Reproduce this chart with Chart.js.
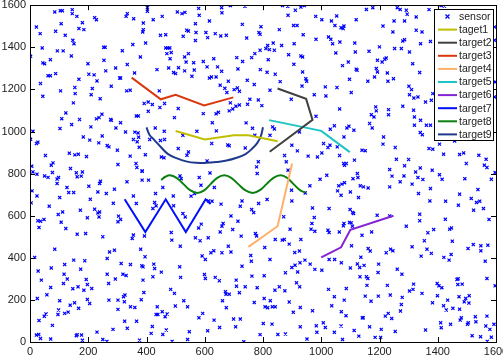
<!DOCTYPE html>
<html>
<head>
<meta charset="utf-8">
<script src="https://cdn.jsdelivr.net/npm/chart.js@4.4.0/dist/chart.umd.min.js"></script>
<style>
  html, body { margin: 0; padding: 0; background: #fff; overflow: hidden; }
  #wrap { width: 520px; height: 362px; position: relative; }
</style>
</head>
<body>
<div id="wrap"><canvas id="myChart"></canvas></div>
<script>
const ticksX = [0, 200, 400, 600, 800, 1000, 1200, 1400, 1600];
const ticksY = [0, 200, 400, 600, 800, 1000, 1200, 1400, 1600];

// sensor positions (x, y)
const sensor = [
  [85,1568],[104,1574],[111,1574],[145,1579],[145,1560],[161,1547],[222,1541],[228,1531],[180,1517],[334,1560],[330,1547],[356,1536],[403,1588],[403,1571],[423,1531],[454,1547],[506,1568],[522,1560],[532,1566],
  [22,1496],[35,1465],[107,1512],[88,1476],[121,1457],[168,1489],[185,1484],[389,1515],[389,1484],[387,1473],[448,1457],[466,1460],[526,1452],[538,1481],
  [147,1433],[151,1417],[353,1413],[397,1420],[42,1397],[94,1383],[114,1383],[142,1359],[253,1400],[258,1400],[317,1384],[466,1397],[473,1397],[480,1397],[485,1375],[470,1370],[481,1346],[379,1354],[531,1354],[536,1330],
  [2,1357],[70,1341],[44,1326],[50,1322],[199,1322],[254,1338],[294,1302],[334,1318],[260,1288],[202,1272],[220,1269],[359,1278],[436,1294],[476,1302],[493,1280],[500,1275],[510,1303],[531,1288],
  [62,1265],[70,1265],[88,1275],[168,1248],[308,1254],[311,1254],[230,1240],[36,1228],[279,1215],[105,1193],[154,1209],[214,1204],[155,1180],[210,1175],[44,1167],[241,1156],[332,1193],[344,1196],[444,1193],
  [149,1136],[392,1133],[406,1140],[420,1128],[462,1133],[446,1114],[509,1109],[406,1096],[247,1082],[228,1060],[237,1066],[279,1053],[277,1057],[365,1074],[372,1074],[123,1088],[109,1061],[170,1057],[143,1033],[103,1014],[209,1022],[311,1042],[295,1017],[328,998],[360,997],[371,993],[430,1017],[461,1001],[496,1066],
  [10,1001],[2,963],[27,949],[22,943],[183,974],[205,959],[248,979],[236,946],[265,933],[271,927],[300,911],[355,962],[373,973],[368,951],[411,962],[448,957],[462,962],[509,919],[525,982],[375,925],[396,890],
  [53,886],[135,897],[154,889],[166,892],[194,881],[79,851],[73,840],[6,835],[139,824],[302,843],[344,883],[364,848],[367,829],[385,813],[451,879],[460,875],[539,887],
  [579,1585],[658,1588],[659,1564],[688,1598],[738,1595],[867,1598],[885,1595],[911,1576],[930,1591],[942,1598],[581,1552],[616,1525],[568,1512],[544,1477],[570,1470],[604,1470],[636,1465],[655,1454],[674,1457],[568,1432],[610,1446],
  [729,1509],[793,1498],[786,1470],[790,1462],[744,1444],[856,1484],[886,1552],[905,1504],[917,1504],[938,1460],[981,1547],[1002,1531],[1035,1525],[1047,1504],[1053,1549],[1068,1493],[1025,1449],[1033,1438],[1039,1417],[1064,1425],
  [982,1438],[907,1417],[864,1409],[835,1420],[816,1409],[810,1394],[822,1389],[839,1386],[790,1386],[772,1370],[761,1351],[730,1333],[710,1351],[818,1341],[888,1365],[930,1359],[936,1354],[906,1319],[1050,1373],[1073,1313],
  [595,1333],[631,1346],[562,1327],[544,1370],[564,1292],[608,1307],[644,1307],[658,1286],[714,1297],[791,1294],[814,1281],[842,1272],[859,1237],[936,1283],[947,1251],[950,1239],[934,1216],[1014,1212],[1054,1209],[976,1175],[1016,1169],
  [556,1262],[616,1254],[623,1259],[639,1259],[681,1239],[746,1243],[770,1223],[653,1220],[669,1205],[676,1185],[701,1199],[712,1207],[719,1191],[755,1153],[784,1150],[747,1129],[796,1123],[719,1126],[707,1120],[696,1107],[684,1098],[688,1136],
  [824,1196],[897,1153],[1063,1107],[595,1085],[639,1084],[647,1091],[626,1042],[640,1003],[624,943],[679,936],[684,932],[742,1041],[764,1015],[772,982],[739,922],[784,856],[778,832],[573,1001],[544,903],[608,860],
  [824,982],[833,1022],[839,1012],[899,935],[925,998],[918,908],[955,883],[987,879],[1002,898],[1030,935],[1045,1027],[1031,1011],[1008,943],[1023,924],[1055,927],[1063,886],[1077,848],[874,886],[880,856],[886,816],[982,1072],
  [1155,1580],[1177,1588],[1261,1588],[1271,1580],[1292,1576],[1295,1557],[1326,1544],[1370,1579],[1412,1598],[1423,1596],[1120,1531],[1250,1525],[1286,1525],[1078,1501],[1075,1489],[1212,1501],[1246,1473],[1326,1481],[1346,1473],
  [1115,1420],[1117,1378],[1164,1381],[1200,1402],[1280,1430],[1286,1436],[1275,1394],[1303,1378],[1252,1394],[1341,1417],[1375,1428],[1093,1330],[1193,1338],[1209,1330],[1218,1343],[1223,1349],[1314,1322],
  [1120,1296],[1123,1291],[1189,1299],[1193,1283],[1227,1278],[1248,1251],[1338,1280],[1097,1248],[1160,1239],[1183,1259],[1103,1185],[1229,1239],[1301,1215],[1310,1199],[1303,1175],[1318,1159],[1332,1164],[1358,1140],[1378,1148],[1383,1180],
  [1280,1120],[1187,1117],[1189,1098],[1172,1080],[1181,1069],[1231,1104],[1231,1080],[1317,1101],[1320,1069],[1341,1053],[1320,1030],[1361,1030],[1375,1030],[1095,1025],[1088,1017],[1112,1006],[1166,1038],[1175,1017],[1340,995],[1347,985],
  [1214,974],[1212,940],[1078,974],[1254,924],[1140,911],[1151,909],[1370,919],[1383,916],[1406,940],[1458,955],[1420,892],[1475,891],[1489,898],[1541,887],[1566,868],[1498,848],[1560,840],[1569,829],[1258,868],[1300,867],[1286,837],[1340,827],[1381,816],[1235,819],[1080,840],[1086,848],[1114,864],
  [1595,1496],[1595,1433],[1597,1235],[1595,1164],
  [10,808],[24,797],[50,789],[62,782],[77,805],[93,774],[93,753],[98,782],[159,804],[162,785],[176,788],[180,808],[127,734],[133,710],[150,710],[202,740],[242,764],[239,753],[233,713],[262,705],[290,726],[333,761],[385,811],[385,769],[407,769],[355,694],[431,705],[456,734],[492,694],[515,789],[519,776],
  [7,718],[24,694],[4,661],[66,645],[102,686],[207,678],[286,659],[173,626],[112,618],[97,606],[222,631],[233,613],[239,618],[237,594],[197,590],[304,598],[311,582],[302,571],[365,658],[428,663],[433,647],[422,634],[493,647],[525,610],[533,594],
  [27,576],[36,574],[48,582],[31,544],[107,569],[123,539],[162,512],[191,515],[250,500],[355,508],[351,492],[393,504],[485,520],[487,484],[516,455],[85,441],[273,428],[290,436],[380,441],[395,405],[16,402],[265,397],[313,373],[345,368],[384,362],[388,357],[425,370],[428,349],
  [73,352],[150,389],[188,386],[119,368],[174,346],[28,337],[39,294],[117,322],[128,299],[115,278],[193,297],[197,273],[71,259],[147,253],[165,262],[185,246],[212,254],[265,322],[293,299],[270,278],[319,322],[330,316],[388,294],[422,310],[451,332],[514,357],[517,307],[391,235],
  [25,207],[58,224],[102,196],[138,175],[167,160],[153,186],[197,202],[205,183],[271,199],[302,199],[321,215],[326,223],[324,191],[302,155],[345,167],[360,164],[382,201],[437,167],[499,171],[528,196],[483,250],[496,231],
  [31,102],[55,133],[49,122],[98,152],[96,131],[119,136],[131,142],[77,79],[162,35],[177,33],[159,30],[71,14],[36,17],[22,33],[30,36],[230,47],[285,60],[250,12],[264,3],[325,99],[334,65],[366,99],[420,74],[416,41],[433,131],[439,131],[454,144],[464,120],[471,133],[468,57],[456,36],[488,3],[376,9],[180,8],
  [581,781],[618,803],[587,745],[633,734],[553,693],[565,705],[780,800],[961,742],[996,773],[1019,792],[1060,742],[1071,750],[1056,718],[1068,697],[898,721],[899,670],[945,708],[656,655],[728,670],[722,645],[761,629],[768,615],[785,658],[814,677],[613,670],[625,669],
  [690,599],[714,574],[663,563],[659,550],[653,523],[696,534],[579,542],[588,560],[568,495],[584,481],[612,495],[725,503],[774,515],[778,504],[871,595],[893,536],[970,637],[976,591],[968,563],[965,536],[978,526],[1027,634],[1023,531],[1027,520],[1062,523],[1076,552],
  [842,487],[866,484],[873,487],[890,465],[930,487],[806,449],[681,455],[690,428],[659,424],[631,433],[621,424],[591,409],[602,392],[758,411],[760,384],[824,392],[909,425],[925,432],[944,389],[927,376],[910,365],[899,354],[962,370],[978,345],[1002,341],[1027,392],[1046,392],[1069,376],
  [728,360],[877,329],[919,333],[599,321],[602,302],[636,307],[650,291],[708,294],[709,265],[671,239],[673,227],[684,227],[719,234],[739,262],[762,313],[804,315],[780,258],[841,246],[856,262],[875,243],[915,281],[926,262],[1025,250],[1045,215],
  [661,196],[674,163],[770,188],[804,207],[825,196],[807,167],[816,163],[832,167],[842,167],[890,190],[904,141],[928,164],[970,148],[1036,172],[1069,144],[1079,199],[541,167],[593,136],[580,115],[632,104],[699,109],[722,109],
  [651,69],[706,72],[801,88],[831,85],[928,72],[983,77],[1007,91],[1014,69],[985,46],[1045,46],[1068,76],[610,53],[547,49],[790,35],[851,36],[877,38],[734,1],[951,14],[1073,12],[541,12],
  [1124,800],[1126,781],[1109,776],[1080,757],[1134,742],[1145,737],[1161,732],[1100,713],[1128,686],[1243,788],[1284,789],[1324,808],[1332,781],[1349,772],[1312,750],[1271,761],[1235,737],[1406,795],[1415,773],[1493,776],[1584,773],[1597,805],
  [1375,729],[1334,705],[1475,702],[1538,724],[1515,682],[1533,663],[1544,669],[1471,650],[1427,669],[1373,670],[1099,629],[1111,610],[1108,615],[1192,602],[1235,599],[1338,607],[1338,576],[1292,550],[1078,563],[1097,568],[1103,566],[1107,550],
  [1173,523],[1140,507],[1366,519],[1386,534],[1426,583],[1441,536],[1447,542],[1523,626],[1557,634],[1576,582],[1354,481],[1450,479],[1104,457],[1161,444],[1168,432],[1223,424],[1238,441],[1246,433],[1312,452],[1363,441],[1378,421],[1343,408],
  [1421,402],[1439,389],[1446,416],[1504,444],[1522,463],[1548,457],[1572,460],[1548,433],[1563,384],[1136,403],[1124,371],[1132,354],[1147,364],[1100,352],[1197,370],[1195,330],[1261,346],[1277,322],[1133,310],[1155,310],[1160,302],[1157,269],[1227,269],[1086,254],
  [1317,275],[1315,250],[1303,242],[1346,231],[1398,278],[1404,267],[1414,258],[1466,297],[1470,300],[1469,273],[1484,275],[1569,302],[1597,267],[1151,218],[1171,194],[1196,218],[1237,223],[1278,212],[1399,220],[1382,186],[1434,199],[1473,215],
  [1420,172],[1429,152],[1452,160],[1475,156],[1496,207],[1508,220],[1507,185],[1491,191],[1275,178],[1272,147],[1230,136],[1220,123],[1242,112],[1144,115],[1141,115],[1085,125],[1481,115],[1477,104],[1505,91],[1502,84],[1529,120],[1531,96],[1569,123],
  [1410,91],[1412,68],[1444,84],[1565,76],[1593,84],[1579,60],[1166,72],[1206,60],[1254,50],[1358,57],[1113,55],[1129,28],[1185,22],[1204,22],[1518,30],[1547,25],[1584,23],[1570,3]
];

// target tracks (x, y)
const target1 = [[500,1002],[600,962],[700,982],[750,982],[850,954]];
const target2 = [[850,1204],[948,1155],[970,1055],[823,904]];
const target3 = [[349,1256],[449,1153],[500,1174],[598,1124],[698,1162]];
const target4 = [[750,452],[850,550],[900,848]];
const target5 = [[821,1054],[1000,1003],[1098,902]];
const target6 = [[1000,402],[1068,450],[1100,533],[1248,600]];
const target7 = [[325,678],[396,522],[466,678],[535,522],[603,678],[620,655]];
const target8 = [[450,770],[465,785],[480,792],[503,780],[527,750],[551,720],[575,708],[598,720],[620,750],[643,780],[667,792],[691,780],[715,750],[740,720],[765,708],[788,720],[812,750],[836,780],[860,792],[883,780],[905,750],[928,720],[946,710]];
const target9 = [[400,1020],[410,985],[428,958],[450,925],[473,894],[505,872],[536,858],[570,851],[604,851],[640,855],[675,862],[707,874],[740,893],[764,920],[780,945],[792,975],[800,1020]];

const labels = ["sensor", "taget1", "target2", "target3", "target4", "target5", "target6", "target7", "target8", "target9"];
const colors = ["#0000ff", "#bfbf00", "#404040", "#d9380f", "#ffb06a", "#1cc4c4", "#8424d4", "#0010ff", "#0a8010", "#1f3a8c"];
const tracks = [target1, target2, target3, target4, target5, target6, target7, target8, target9];

const toXY = (arr) => arr.map((p) => ({ x: p[0], y: p[1] }));

const datasets = [
  {
    label: labels[0],
    data: toXY(sensor),
    pointStyle: "crossRot",
    pointRadius: 2.2,
    pointBorderWidth: 1.2,
    pointBorderColor: colors[0],
    pointBackgroundColor: colors[0],
    showLine: false,
    order: 10,
  },
];
tracks.forEach((t, i) => {
  datasets.push({
    label: labels[i + 1],
    data: toXY(t),
    showLine: true,
    borderColor: colors[i + 1],
    backgroundColor: colors[i + 1],
    borderWidth: 2,
    pointRadius: 0,
    tension: i === 7 || i === 8 ? 0.4 : 0,
    order: 1,
  });
});

// box, inward ticks on all sides, and legend inside the axes
const framePlugin = {
  id: "frame",
  afterDraw(chart) {
    const { ctx, chartArea: a, scales } = chart;
    ctx.save();
    ctx.strokeStyle = "#000";
    ctx.lineWidth = 1;
    ctx.strokeRect(Math.round(a.left) + 0.5, Math.round(a.top) + 0.5, Math.round(a.right - a.left), Math.round(a.bottom - a.top));
    ctx.beginPath();
    ticksX.forEach((v) => {
      const px = Math.round(scales.x.getPixelForValue(v)) + 0.5;
      ctx.moveTo(px, a.bottom); ctx.lineTo(px, a.bottom - 5);
      ctx.moveTo(px, a.top); ctx.lineTo(px, a.top + 5);
    });
    ticksY.forEach((v) => {
      const py = Math.round(scales.y.getPixelForValue(v)) + 0.5;
      ctx.moveTo(a.left, py); ctx.lineTo(a.left + 5, py);
      ctx.moveTo(a.right, py); ctx.lineTo(a.right - 5, py);
    });
    ctx.stroke();

    // legend
    const lx = 434.5, ly = 9.5, lw = 59, lh = 131;
    ctx.fillStyle = "#fff";
    ctx.fillRect(lx, ly, lw, lh);
    ctx.strokeRect(lx, ly, lw, lh);
    ctx.font = "10.5px 'Liberation Sans', Arial, sans-serif";
    ctx.textBaseline = "middle";
    labels.forEach((lab, i) => {
      const y = 16.5 + i * 13.1;
      if (i === 0) {
        ctx.strokeStyle = colors[0];
        ctx.lineWidth = 1.2;
        ctx.beginPath();
        ctx.moveTo(445.5, y - 2); ctx.lineTo(449.5, y + 2);
        ctx.moveTo(445.5, y + 2); ctx.lineTo(449.5, y - 2);
        ctx.stroke();
      } else {
        ctx.strokeStyle = colors[i];
        ctx.lineWidth = 2;
        ctx.beginPath();
        ctx.moveTo(438, y); ctx.lineTo(457, y);
        ctx.stroke();
      }
      ctx.fillStyle = "#222";
      ctx.fillText(lab, 459, y + 0.5);
    });
    ctx.restore();
  },
};

const config = {
  type: "scatter",
  data: { datasets: datasets },
  options: {
    responsive: true,
    maintainAspectRatio: false,
    animation: false,
    events: [],
    layout: { padding: { left: 0, top: 4, right: 24, bottom: 0 } },
    plugins: {
      legend: { display: false },
      tooltip: { enabled: false },
    },
    scales: {
      x: {
        type: "linear",
        min: 0,
        max: 1600,
        grid: { display: false, drawTicks: false },
        border: { display: false },
        ticks: {
          stepSize: 200,
          autoSkip: false,
          maxRotation: 0,
          padding: 3,
          color: "#222",
          font: { size: 11 },
          callback: (v) => String(v),
        },
        afterFit(scale) {
          scale.height = 20;
          scale.paddingLeft = 0;
          scale.paddingRight = 0;
        },
      },
      y: {
        type: "linear",
        min: 0,
        max: 1600,
        grid: { display: false, drawTicks: false },
        border: { display: false },
        ticks: {
          stepSize: 200,
          autoSkip: false,
          padding: 4,
          color: "#222",
          font: { size: 11 },
          callback: (v) => String(v),
        },
        afterFit(scale) {
          scale.width = 30;
          scale.paddingTop = 0;
          scale.paddingBottom = 0;
        },
      },
    },
  },
  plugins: [framePlugin],
};

Chart.defaults.font.family = "'Liberation Sans', Arial, sans-serif";
const myChart = new Chart(document.querySelector("#myChart"), config);
</script>
</body>
</html>
